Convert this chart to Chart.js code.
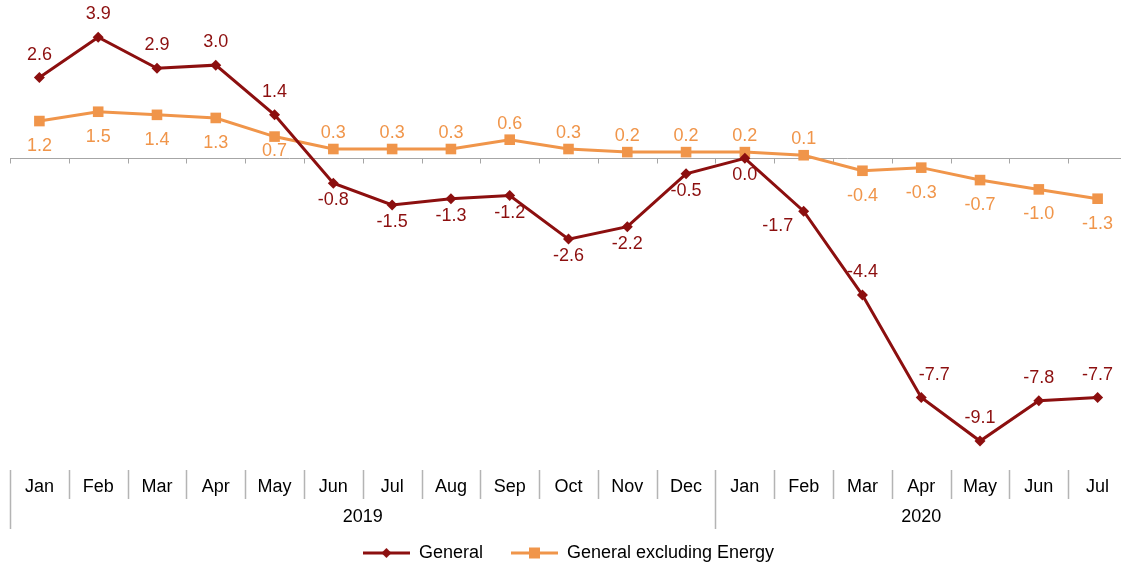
<!DOCTYPE html>
<html>
<head>
<meta charset="utf-8">
<script src="https://cdn.jsdelivr.net/npm/chart.js@4.4.0/dist/chart.umd.min.js"></script>
<style>
    html, body { margin: 0; padding: 0; background: #fff; overflow: hidden; }
    /* the plot runs a few pixels past the right and bottom edge, as in the original crop */
    #wrap { width: 1121px; height: 565px; overflow: hidden; position: relative; }
    #myChart { position: absolute; left: 0; top: 0; }
</style>
</head>
<body>
<div id="wrap"><canvas id="myChart" width="1128" height="572"></canvas></div>
<script>
var months = ['Jan', 'Feb', 'Mar', 'Apr', 'May', 'Jun', 'Jul', 'Aug', 'Sep', 'Oct', 'Nov', 'Dec',
              'Jan', 'Feb', 'Mar', 'Apr', 'May', 'Jun', 'Jul'];
var years = ['2019', '2020'];
var yearStarts = [0, 12];

var general = [2.6, 3.9, 2.9, 3.0, 1.4, -0.8, -1.5, -1.3, -1.2, -2.6, -2.2, -0.5,
               0.0, -1.7, -4.4, -7.7, -9.1, -7.8, -7.7];
var exEnergy = [1.2, 1.5, 1.4, 1.3, 0.7, 0.3, 0.3, 0.3, 0.6, 0.3, 0.2, 0.2,
                0.2, 0.1, -0.4, -0.3, -0.7, -1.0, -1.3];

// where each value label sits relative to its point
var generalLabelSide = ['up', 'up', 'up', 'up', 'up', 'down', 'down', 'down', 'down', 'down', 'down', 'down',
                        'down', 'down', 'up', 'up', 'up', 'up', 'up'];
var exEnergyLabelSide = ['down', 'down', 'down', 'down', 'down', 'up', 'up', 'up', 'up', 'up', 'up', 'up',
                         'up', 'up', 'down', 'down', 'down', 'down', 'down'];

// label distance from point for each series [up, down], and a few hand-moved labels
var labelGap = [[-23, 17], [-16, 25]];
var labelNudge = [{ 13: [-26, -2], 15: [13, 0] }, { 4: [0, -11] }];

var RED = '#8c0f0f';
var ORANGE = '#f0954a';
var FONT = 'Liberation Sans, Arial, sans-serif';
var FONT_SIZE = 18;

// Small line + marker pictures for the legend
function legendIcon(color, marker) {
    var c = document.createElement('canvas');
    c.width = 47; c.height = 14;
    var g = c.getContext('2d');
    g.strokeStyle = color;
    g.lineWidth = 3;
    g.beginPath();
    g.moveTo(0, 7); g.lineTo(47, 7);
    g.stroke();
    g.fillStyle = color;
    if (marker === 'diamond') {
        g.beginPath();
        g.moveTo(23.5, 2); g.lineTo(28.5, 7); g.lineTo(23.5, 12); g.lineTo(18.5, 7);
        g.closePath();
        g.fill();
    } else {
        g.fillRect(18, 1.5, 11, 11);
    }
    return c;
}
var legendIcons = [legendIcon(RED, 'diamond'), legendIcon(ORANGE, 'square')];

// Zero line, category separators and year labels
var axisDecor = {
    id: 'axisDecor',
    beforeDatasetsDraw: function(chart) {
        var ctx = chart.ctx, x = chart.scales.x, y = chart.scales.y, area = chart.chartArea;
        var half = (x.getPixelForValue(1) - x.getPixelForValue(0)) / 2;
        var y0 = Math.round(y.getPixelForValue(0)) + 0.5;
        var b = area.bottom;
        ctx.save();
        ctx.strokeStyle = '#a6a6a6';
        ctx.lineWidth = 1;
        ctx.beginPath();
        ctx.moveTo(area.left, y0);
        ctx.lineTo(area.right, y0);
        for (var i = 0; i <= months.length; i++) {
            var px = Math.round(x.getPixelForValue(i) - half) + 0.5;
            ctx.moveTo(px, y0);
            ctx.lineTo(px, y0 + 5);
        }
        ctx.stroke();

        ctx.strokeStyle = '#b4b4b4';
        ctx.lineWidth = 1.5;
        ctx.beginPath();
        for (var j = 0; j <= months.length; j++) {
            var sx = Math.round(x.getPixelForValue(j) - half) + 0.5;
            var isYear = yearStarts.indexOf(j) >= 0 || j === months.length;
            ctx.moveTo(sx, b + 1);
            ctx.lineTo(sx, b + (isYear ? 60 : 30));
        }
        ctx.stroke();

        ctx.fillStyle = '#000';
        ctx.font = FONT_SIZE + 'px ' + FONT;
        ctx.textAlign = 'center';
        ctx.textBaseline = 'middle';
        for (var k = 0; k < years.length; k++) {
            var s = yearStarts[k];
            var e = k + 1 < yearStarts.length ? yearStarts[k + 1] : months.length;
            var cx = (x.getPixelForValue(s) + x.getPixelForValue(e - 1)) / 2;
            ctx.fillText(years[k], cx, b + 48);
        }
        ctx.restore();
    }
};

// Value labels above or below each point
var valueLabels = {
    id: 'valueLabels',
    afterDatasetsDraw: function(chart) {
        var ctx = chart.ctx;
        var sides = [generalLabelSide, exEnergyLabelSide];
        ctx.save();
        ctx.font = FONT_SIZE + 'px ' + FONT;
        ctx.textAlign = 'center';
        ctx.textBaseline = 'middle';
        chart.data.datasets.forEach(function(ds, d) {
            var meta = chart.getDatasetMeta(d);
            ctx.fillStyle = ds.borderColor;
            meta.data.forEach(function(pt, i) {
                var off = sides[d][i] === 'up' ? labelGap[d][0] : labelGap[d][1];
                var n = labelNudge[d][i] || [0, 0];
                ctx.fillText(ds.data[i].toFixed(1), pt.x + n[0], pt.y + off + n[1]);
            });
        });
        ctx.restore();
    }
};

var ctx = document.getElementById('myChart').getContext('2d');
var myChart = new Chart(ctx, {
    type: 'line',
    data: {
        labels: months,
        datasets: [
            {
                label: 'General',
                data: general,
                borderColor: RED,
                backgroundColor: RED,
                borderWidth: 3,
                pointStyle: 'rectRot',
                pointRadius: 5.5,
                pointBorderWidth: 0,
                tension: 0,
                clip: false
            },
            {
                label: 'General excluding Energy',
                data: exEnergy,
                borderColor: ORANGE,
                backgroundColor: ORANGE,
                borderWidth: 3,
                pointStyle: 'rect',
                pointRadius: 7.5,
                pointBorderWidth: 0,
                tension: 0,
                clip: false
            }
        ]
    },
    options: {
        responsive: false,
        animation: false,
        layout: { autoPadding: false, padding: { left: 10, right: 1, top: 3, bottom: 0 } },
        scales: {
            x: {
                offset: true,
                grid: { display: false, drawTicks: false },
                border: { display: false },
                ticks: {
                    color: '#000',
                    font: { family: FONT, size: FONT_SIZE },
                    padding: 7,
                    maxRotation: 0,
                    autoSkip: false
                },
                afterFit: function(scale) { scale.height = 47; }
            },
            y: {
                display: false,
                min: -10.0,
                max: 5.0
            }
        },
        plugins: {
            legend: {
                position: 'bottom',
                labels: {
                    usePointStyle: true,
                    pointStyleWidth: 47,
                    boxHeight: 14,
                    padding: 28,
                    color: '#000',
                    font: { family: FONT, size: FONT_SIZE },
                    generateLabels: function(chart) {
                        return chart.data.datasets.map(function(ds, i) {
                            return {
                                text: ds.label,
                                pointStyle: legendIcons[i],
                                fillStyle: ds.borderColor,
                                strokeStyle: ds.borderColor,
                                lineWidth: 0,
                                hidden: false,
                                datasetIndex: i,
                                fontColor: '#000'
                            };
                        });
                    }
                }
            },
            tooltip: { enabled: false }
        }
    },
    plugins: [axisDecor, valueLabels]
});
</script>
</body>
</html>
